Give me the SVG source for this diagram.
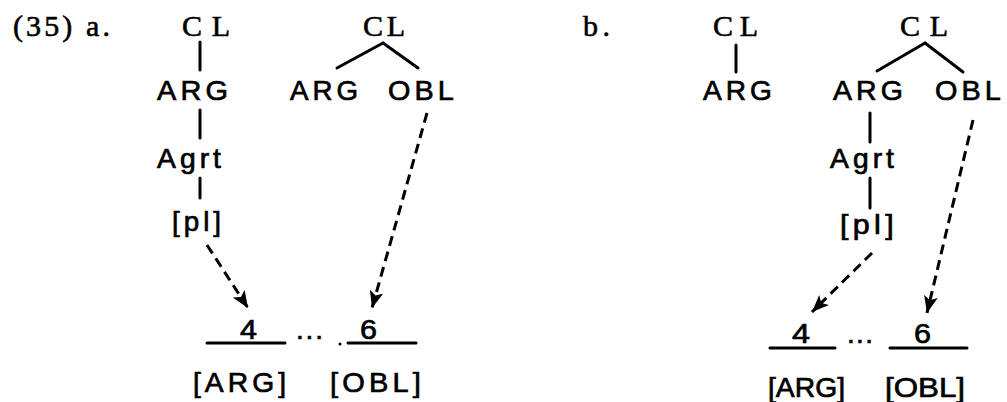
<svg xmlns="http://www.w3.org/2000/svg" width="1007" height="402" viewBox="0 0 1007 402">
<defs>
<marker id="ah" markerUnits="userSpaceOnUse" markerWidth="18" markerHeight="14" viewBox="0 0 18 14" refX="17" refY="7" orient="auto">
<path d="M0,0 L17,7 L0,14 L4,7 Z" fill="#000"/>
</marker>
<style>
.s{font-family:"Liberation Serif",serif;font-size:30px;fill:#000;stroke:#000;stroke-width:0.6}
.t{font-family:"Liberation Sans",sans-serif;font-size:28px;letter-spacing:4px;fill:#000;stroke:#000;stroke-width:0.7}
.b{font-family:"Liberation Sans",sans-serif;font-size:28px;letter-spacing:4px;fill:#000;stroke:#000;stroke-width:0.7}
.n{letter-spacing:0}
.ln{stroke:#000;stroke-width:3;fill:none;stroke-linecap:round}
.d{stroke:#000;stroke-width:3;fill:none;stroke-dasharray:10 6}
</style>
</defs>
<rect width="1007" height="402" fill="#fff"/>
<g id="label-a"><text class="s" x="13" y="36" textLength="97" lengthAdjust="spacing">(35) a.</text></g>
<g id="label-b"><text class="s" x="583" y="36" textLength="27" lengthAdjust="spacing">b.</text></g>

<g id="a1-CL"><text class="s" x="182" y="36" textLength="48" lengthAdjust="spacing">CL</text></g>
<g id="a1-ARG"><text class="t" x="157" y="100" textLength="75" lengthAdjust="spacingAndGlyphs">ARG</text></g>
<g id="a1-Agrt"><text class="t" x="157" y="168" textLength="68" lengthAdjust="spacingAndGlyphs">Agrt</text></g>
<g id="a1-pl"><text class="t" x="172" y="231" textLength="53" lengthAdjust="spacingAndGlyphs">[pl]</text></g>

<g id="a2-CL"><text class="s" x="363" y="36" textLength="42" lengthAdjust="spacing">CL</text></g>
<g id="a2-ARG"><text class="t" x="290" y="100" textLength="72" lengthAdjust="spacingAndGlyphs">ARG</text></g>
<g id="a2-OBL"><text class="t" x="388" y="100" textLength="70" lengthAdjust="spacingAndGlyphs">OBL</text></g>

<g id="a-slots">
<text class="b n" x="240" y="339" textLength="17" lengthAdjust="spacingAndGlyphs">4</text>
<line class="ln" x1="207" y1="343" x2="285" y2="343"/>
<text class="b n" x="296" y="339" textLength="27" lengthAdjust="spacing">...</text>
<circle cx="340" cy="344" r="1.5" fill="#000"/>
<line class="ln" x1="348" y1="343" x2="416" y2="343"/>
<text class="b n" x="360" y="339" textLength="17" lengthAdjust="spacingAndGlyphs">6</text>
<text class="b" x="193" y="392" textLength="97" lengthAdjust="spacingAndGlyphs">[ARG]</text>
<text class="b" x="330" y="392" textLength="95" lengthAdjust="spacingAndGlyphs">[OBL]</text>
</g>

<g id="b1-CL"><text class="s" x="713" y="36" textLength="45" lengthAdjust="spacing">CL</text></g>
<g id="b1-ARG"><text class="t" x="703" y="100" textLength="73" lengthAdjust="spacingAndGlyphs">ARG</text></g>

<g id="b2-CL"><text class="s" x="900" y="36" textLength="48" lengthAdjust="spacing">CL</text></g>
<g id="b2-ARG"><text class="t" x="833" y="100" textLength="74" lengthAdjust="spacingAndGlyphs">ARG</text></g>
<g id="b2-OBL"><text class="t" x="935" y="100" textLength="70" lengthAdjust="spacingAndGlyphs">OBL</text></g>
<g id="b2-Agrt"><text class="t" x="830" y="168" textLength="68" lengthAdjust="spacingAndGlyphs">Agrt</text></g>
<g id="b2-pl"><text class="t" x="840" y="234" textLength="58" lengthAdjust="spacingAndGlyphs">[pl]</text></g>

<g id="b-slots">
<text class="b n" x="792" y="343" textLength="18" lengthAdjust="spacingAndGlyphs">4</text>
<line class="ln" x1="770" y1="348" x2="835" y2="348"/>
<text class="b n" x="847" y="343" textLength="26" lengthAdjust="spacing">...</text>
<line class="ln" x1="890" y1="348" x2="967" y2="348"/>
<text class="b n" x="914" y="343" textLength="17" lengthAdjust="spacingAndGlyphs">6</text>
<text class="b n" x="768" y="397" textLength="77" lengthAdjust="spacingAndGlyphs">[ARG]</text>
<text class="b n" x="885" y="397" textLength="80" lengthAdjust="spacingAndGlyphs">[OBL]</text>
</g>

<g id="connectors">
<line class="ln" x1="200" y1="42" x2="200" y2="70"/>
<line class="ln" x1="200" y1="110" x2="200" y2="138"/>
<line class="ln" x1="200" y1="178" x2="200" y2="198"/>
<line class="d" x1="207" y1="245" x2="248" y2="308" marker-end="url(#ah)"/>
<line class="ln" x1="383" y1="43" x2="337" y2="68"/>
<line class="ln" x1="383" y1="43" x2="418" y2="68"/>
<line class="d" x1="427" y1="113" x2="372" y2="308" marker-end="url(#ah)"/>

<line class="ln" x1="736" y1="45" x2="736" y2="72"/>
<line class="ln" x1="925" y1="43" x2="877" y2="71"/>
<line class="ln" x1="925" y1="43" x2="963" y2="72"/>
<line class="ln" x1="870" y1="113" x2="870" y2="142"/>
<line class="ln" x1="870" y1="178" x2="870" y2="208"/>
<line class="d" x1="872" y1="253" x2="812" y2="312" marker-end="url(#ah)"/>
<line class="d" x1="973" y1="120" x2="927" y2="313" marker-end="url(#ah)"/>
</g>
</svg>
